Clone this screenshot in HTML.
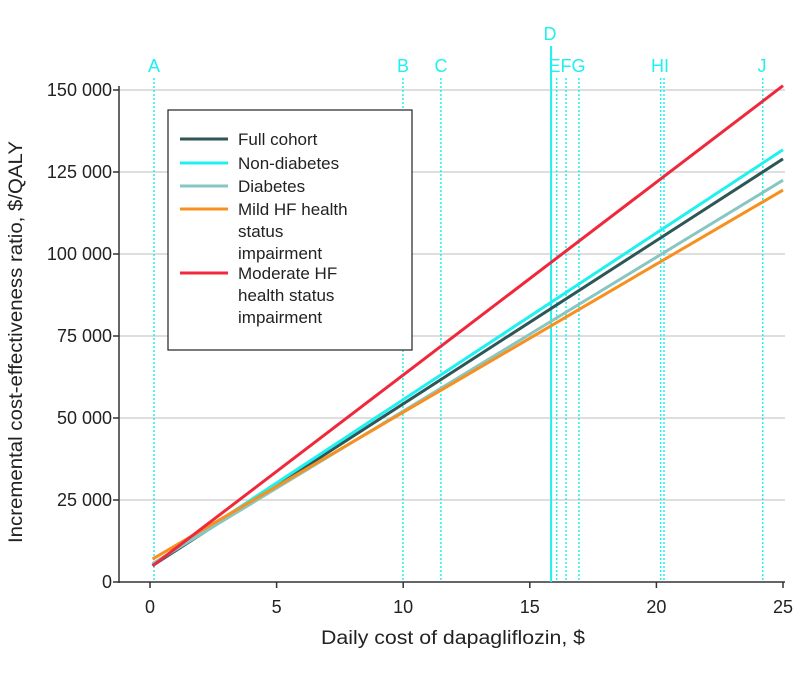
<!DOCTYPE html>
<html><head><meta charset="utf-8"><style>
body{margin:0;background:#fff}
svg text{font-family:"Liberation Sans",sans-serif}
</style></head><body>
<svg id="c" width="798" height="668"></svg>
<script>
const xTicks=[0,5,10,15,20,25];
const yTicks=[0,25000,50000,75000,100000,125000,150000];
const yTickLabels=["0","25 000","50 000","75 000","100 000","125 000","150 000"];
const seriesNames=["Full cohort","Non-diabetes","Diabetes","Mild HF health status impairment","Moderate HF health status impairment"];
const seriesColors=["#2e5656","#1ff0f0","#88c6c3","#f7901e","#f0283c"];
const seriesStart=[5000,5300,5600,7000,4900];
const seriesEnd=[129000,131800,122500,119500,151300];
const xStartVal=0.1, xEndVal=25;
const refLabels=["A","B","C","D","E","F","G","H","I","J"];
const refValues=[0.16,9.99,11.49,15.84,16.06,16.43,16.94,20.17,20.3,24.2];

const NS="http://www.w3.org/2000/svg";
const svg=document.getElementById('c');
const X=v=>150+v*(783-150)/25;
const Y=v=>582-v*492/150000;
function mk(t,a,p){const e=document.createElementNS(NS,t);for(const k in a)e.setAttribute(k,a[k]);(p||svg).appendChild(e);return e;}

yTicks.forEach((v,i)=>{
  if(v>0){const g=mk('line',{x1:119,x2:785,y1:Y(v),y2:Y(v),stroke:'#d4d4d4','stroke-width':1.5});
  
  }
  mk('line',{x1:113,x2:119,y1:Y(v),y2:Y(v),stroke:'#333','stroke-width':1.5});
  const t=mk('text',{x:112,y:Y(v)+6,'text-anchor':'end','font-size':18,fill:'#222'});
  t.textContent=yTickLabels[i];
  
  
});
xTicks.forEach(v=>{
  mk('line',{x1:X(v),x2:X(v),y1:582,y2:588,stroke:'#333','stroke-width':1.5});
  const t=mk('text',{x:X(v),y:613,'text-anchor':'middle','font-size':18,fill:'#222'});
  t.textContent=v;
  
  
});
mk('line',{x1:119,x2:119,y1:86,y2:583,stroke:'#333','stroke-width':1.5});
mk('line',{x1:119,x2:785,y1:582,y2:582,stroke:'#333','stroke-width':1.5});

refValues.forEach((v,i)=>{
  const solid=refLabels[i]==='D';
  const l=mk('line',{x1:X(v),x2:X(v),y1:solid?46:78,y2:582,stroke:'#1ff0f0','stroke-width':solid?2:1.5,'stroke-dasharray':solid?'none':'2,2'});
  
  
});
const lab=[["A",154,72],["B",403,72],["C",441,72],["D",550,40],["EFG",567,72],["HI",660,72],["J",762,72]];
lab.forEach(a=>{const t=mk('text',{x:a[1],y:a[2],'text-anchor':'middle','font-size':18,fill:'#1ff0f0'});t.textContent=a[0];
  
  });

seriesNames.forEach((n,i)=>{
  const l=mk('line',{x1:X(xStartVal),y1:Y(seriesStart[i]),x2:X(xEndVal),y2:Y(seriesEnd[i]),stroke:seriesColors[i],'stroke-width':3});
  
  
});

const lg=mk('g',{});


mk('rect',{x:168,y:110,width:244,height:240,fill:'#fff',stroke:'#222','stroke-width':1.2},lg);
const rows=[[139,["Full cohort"]],[163,["Non-diabetes"]],[186,["Diabetes"]],[209,["Mild HF health","status","impairment"]],[273,["Moderate HF","health status","impairment"]]];
rows.forEach((r,i)=>{
  mk('line',{x1:180,x2:228,y1:r[0],y2:r[0],stroke:seriesColors[i],'stroke-width':3},lg);
  r[1].forEach((s,j)=>{const t=mk('text',{x:238,y:r[0]+6+j*22,'font-size':17,fill:'#222'},lg);t.textContent=s;});
});

const xt=mk('text',{x:453,y:644,'text-anchor':'middle','font-size':19,fill:'#222',textLength:264,lengthAdjust:'spacingAndGlyphs'});
xt.textContent="Daily cost of dapagliflozin, $";


const yt=mk('text',{x:0,y:0,'text-anchor':'middle','font-size':19,fill:'#222',textLength:402,lengthAdjust:'spacingAndGlyphs',transform:'translate(22,342) rotate(-90)'});
yt.textContent="Incremental cost-effectiveness ratio, $/QALY";


</script>
</body></html>
